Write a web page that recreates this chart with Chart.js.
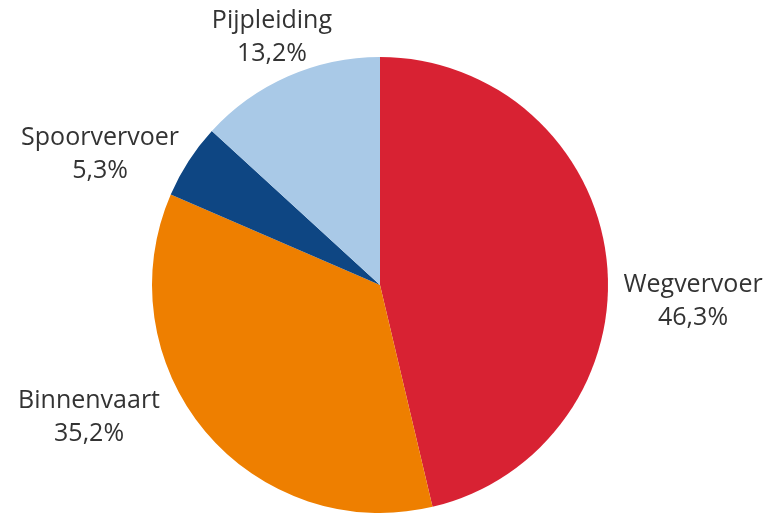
<!DOCTYPE html>
<html lang="nl">
<head>
<meta charset="utf-8">
<title>Modal split goederenvervoer</title>
<script src="https://cdn.jsdelivr.net/npm/chart.js@4.4.1/dist/chart.umd.min.js"></script>
<style>
  html, body { margin: 0; padding: 0; background: #ffffff; }
  #wrap { width: 771px; height: 515px; position: relative; }
</style>
</head>
<body>
<div id="wrap"><canvas id="modalSplitChart"></canvas></div>
<script>
const categories = ['Wegvervoer', 'Binnenvaart', 'Spoorvervoer', 'Pijpleiding'];
const shares = [46.3, 35.2, 5.3, 13.2];
const sliceColors = ['#d82233', '#ee7f00', '#0e4683', '#a9c9e7'];

// Label block centres, expressed in pie radii relative to the pie centre.
const labelPlacement = [
  { dx: 1.373, dy: 0.07 },
  { dx: -1.276, dy: 0.58 },
  { dx: -1.228, dy: -0.575 },
  { dx: -0.474, dy: -1.09 }
];

function formatShare(value) {
  return value.toFixed(1).replace('.', ',') + '%';
}

const sliceLabels = {
  id: 'sliceLabels',
  afterDatasetsDraw(chart) {
    const { ctx } = chart;
    const arcs = chart.getDatasetMeta(0).data;
    ctx.save();
    ctx.font = '500 25px "Open Sans", "Noto Sans", sans-serif';
    ctx.fillStyle = '#333333';
    ctx.textAlign = 'center';
    ctx.textBaseline = 'middle';
    arcs.forEach((arc, index) => {
      const place = labelPlacement[index];
      const x = arc.x + place.dx * arc.outerRadius;
      const y = arc.y + place.dy * arc.outerRadius;
      ctx.fillText(categories[index], x, y - 16);
      ctx.fillText(formatShare(shares[index]), x, y + 17);
    });
    ctx.restore();
  }
};

new Chart(document.getElementById('modalSplitChart'), {
  type: 'pie',
  data: {
    labels: categories,
    datasets: [{
      data: shares,
      backgroundColor: sliceColors,
      borderWidth: 0
    }]
  },
  options: {
    responsive: true,
    maintainAspectRatio: false,
    animation: false,
    layout: { padding: { left: 152, right: 163, top: 57, bottom: 2 } },
    plugins: {
      legend: { display: false },
      tooltip: { enabled: false }
    }
  },
  plugins: [sliceLabels]
});
</script>
</body>
</html>
